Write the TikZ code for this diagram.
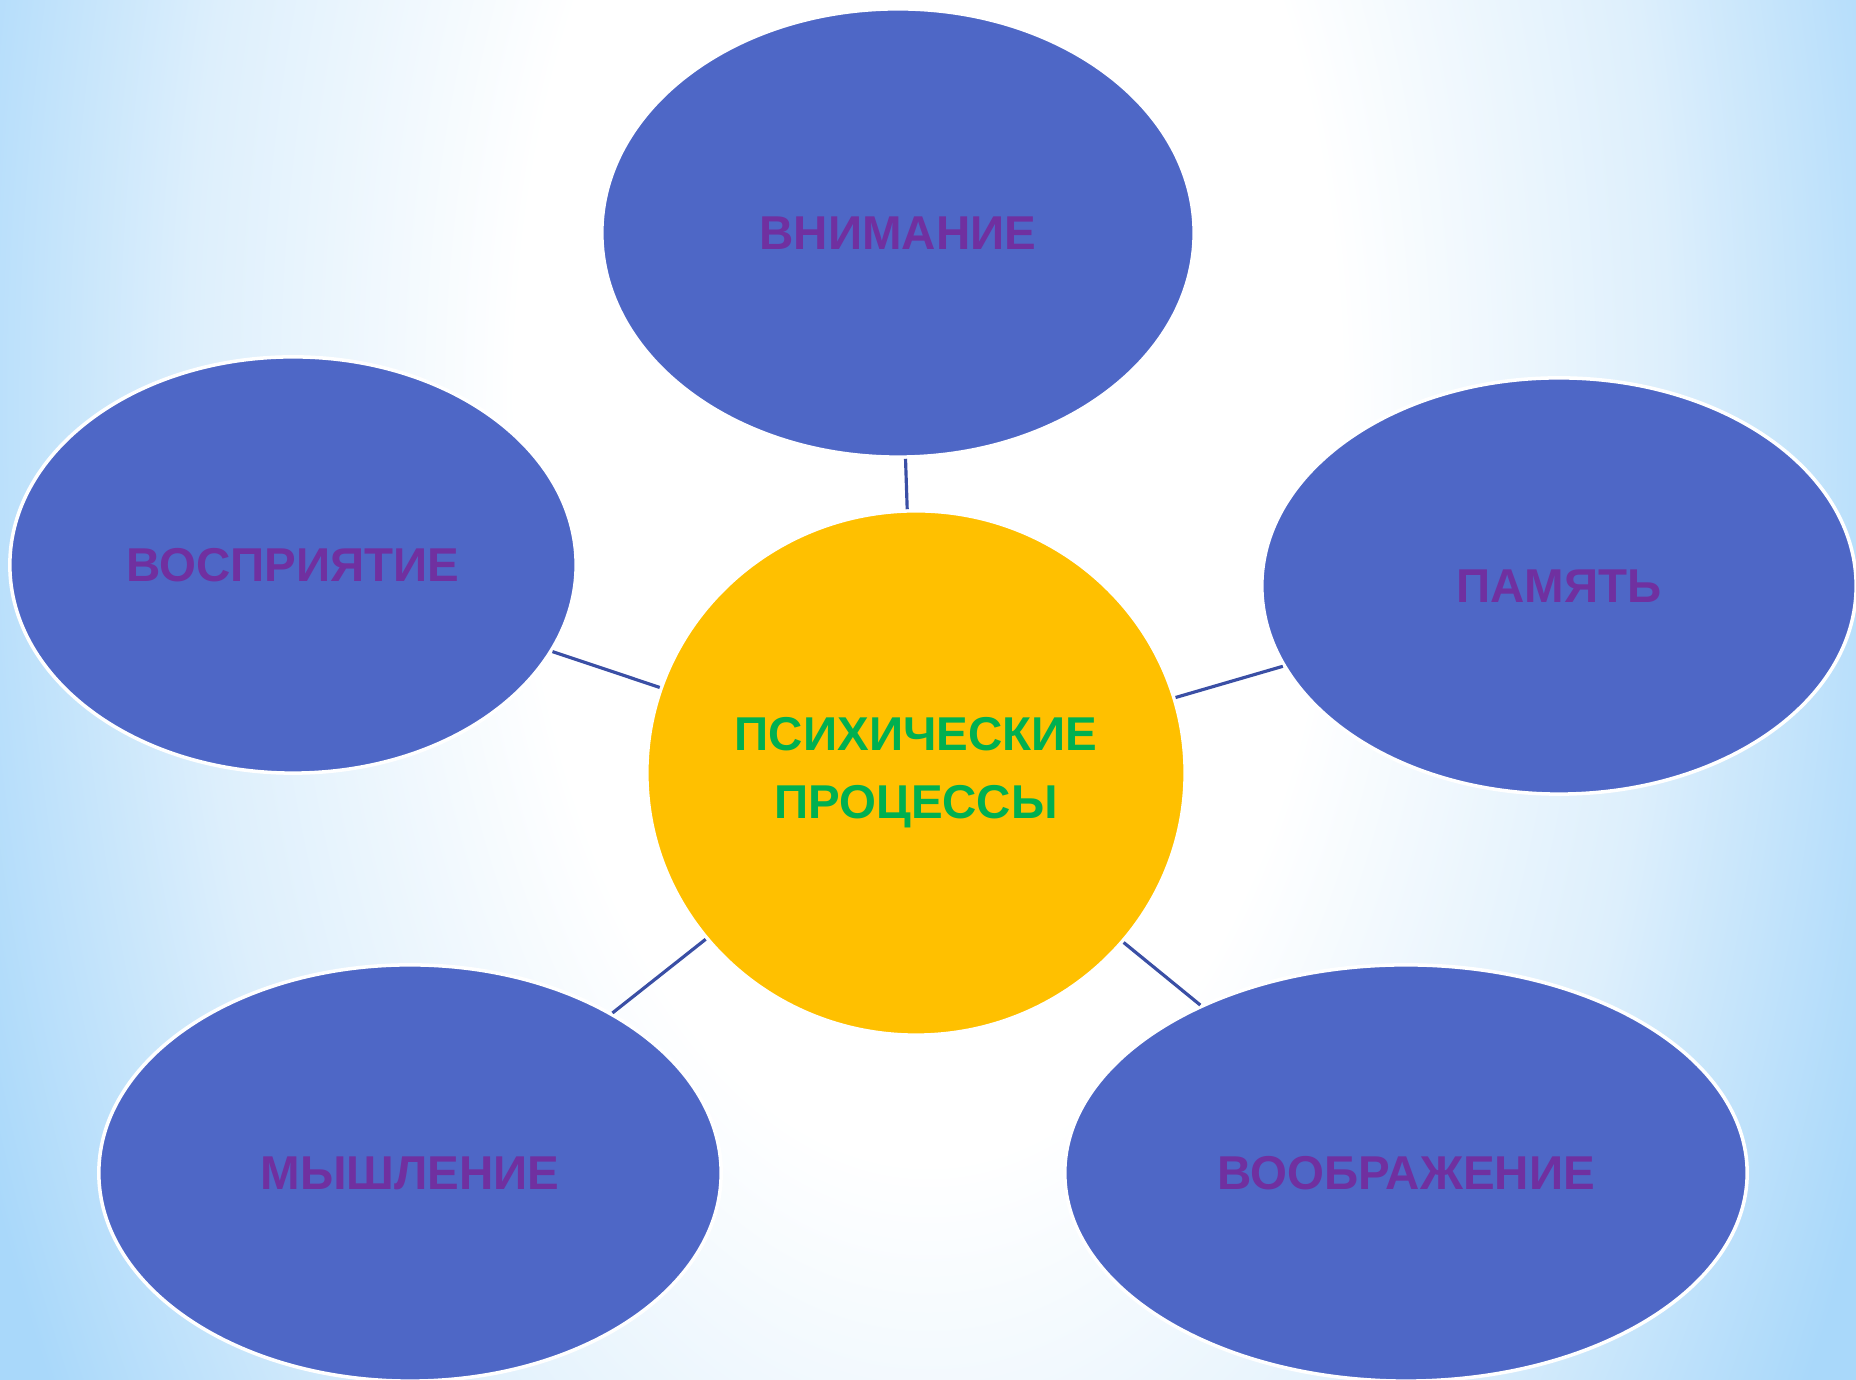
\documentclass[tikz,border=0pt]{standalone}
\usepackage{fontspec}
\setmainfont{Liberation Sans}
\usetikzlibrary{shapes.geometric,fadings}

\definecolor{bgblue}{HTML}{A9D8FA}
\definecolor{bgmid}{HTML}{DDEFFC}
\definecolor{procblue}{HTML}{4E67C6}
\definecolor{txtpurple}{HTML}{7030A0}
\definecolor{txtgreen}{HTML}{00B050}
\definecolor{coreyellow}{HTML}{FFC000}
\definecolor{linkblue}{HTML}{3A4FA5}

\pgfdeclareradialshading{bgglow}{\pgfpoint{0bp}{0bp}}{color(0bp)=(white); color(10bp)=(white); color(18bp)=(bgmid); color(25bp)=(bgblue); color(50bp)=(bgblue)}
\tikzfading[name=bandfade, top color=transparent!100, middle color=transparent!45, bottom color=transparent!100]

\begin{document}
\begin{tikzpicture}[x=0.01cm, y=-0.01cm,
	process/.style={ellipse, fill=procblue, draw=white, line width=1pt, inner sep=0pt,
		text=txtpurple, font=\bfseries\fontsize{13.5}{17}\selectfont},
	core/.style={ellipse, fill=coreyellow, draw=white, line width=1pt, inner sep=0pt,
		text=txtgreen, align=center, font=\bfseries\fontsize{13.5}{19.3}\selectfont},
	link/.style={draw=linkblue, line width=0.9pt}]
	\useasboundingbox (0,0) rectangle (1856,1380);
	% background
	\begin{scope}
	\clip (0,0) rectangle (1856,1380);
	\shade[shading=bgglow] (-100,-1500) rectangle (1956,2300);
	\shade[left color=bgblue, right color=bgblue, middle color=white, path fading=bandfade] (0,920) rectangle (1856,1080);
	\end{scope}
	\node[core, minimum width=5.38cm, minimum height=5.24cm] (psych) at (916,773) {ПСИХИЧЕСКИЕ\\ПРОЦЕССЫ};
	\node[process, minimum width=5.92cm, minimum height=4.48cm] (attention) at (898,233) {ВНИМАНИЕ};
	\node[process, minimum width=5.66cm, minimum height=4.16cm] (perception) at (293,565) {ВОСПРИЯТИЕ};
	\node[process, minimum width=5.94cm, minimum height=4.16cm] (memory) at (1559,586) {ПАМЯТЬ};
	\node[process, minimum width=6.22cm, minimum height=4.16cm] (thinking) at (410,1173) {МЫШЛЕНИЕ};
	\node[process, minimum width=6.82cm, minimum height=4.16cm] (imagination) at (1406,1173) {ВООБРАЖЕНИЕ};
	\draw[link] (attention) -- (psych);
	\draw[link] (perception) -- (psych);
	\draw[link] (memory) -- (psych);
	\draw[link] (thinking) -- (psych);
	\draw[link] (imagination) -- (psych);
\end{tikzpicture}
\end{document}
